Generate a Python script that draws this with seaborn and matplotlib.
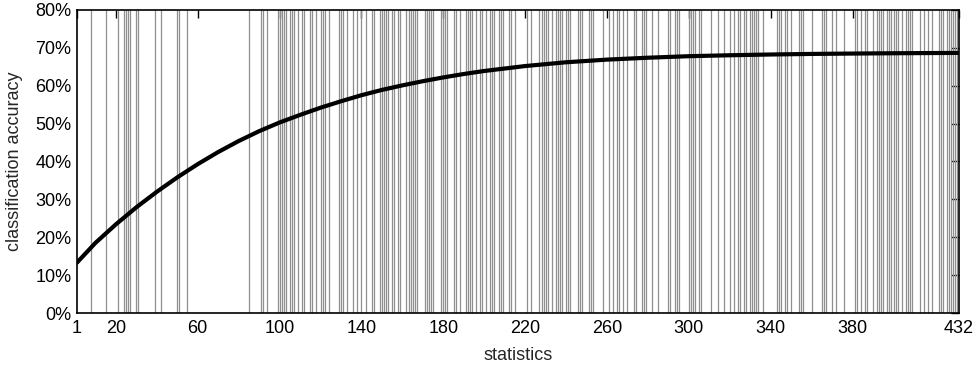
import matplotlib
matplotlib.use("Agg")
import matplotlib.pyplot as plt
import seaborn as sns
import pandas as pd
from matplotlib.ticker import FuncFormatter

# selected statistics (vertical markers)
selected = [8, 15, 21, 24, 25, 26, 27, 30, 31, 39, 42, 50, 51, 55, 85, 91, 92, 94,
            99, 100, 101, 102, 103, 105, 106, 107, 109, 111, 112, 115, 116, 118, 120,
            121, 122, 124, 129, 130, 131, 133, 136, 138, 140, 142, 145, 146, 149, 150,
            151, 152, 153, 155, 156, 158, 159, 162, 163, 164, 165, 166, 167, 171, 172,
            173, 174, 175, 179, 180, 181, 182, 185, 186, 188, 191, 192, 193, 194, 196,
            198, 199, 201, 203, 204, 205, 207, 208, 209, 212, 213, 215, 221, 223, 227,
            228, 229, 230, 231, 233, 235, 236, 237, 238, 240, 241, 242, 246, 247, 248,
            251, 252, 253, 258, 261, 263, 265, 266, 268, 270, 273, 274, 277, 278, 279,
            282, 285, 290, 291, 293, 294, 295, 300, 301, 302, 303, 305, 306, 311, 314,
            317, 320, 322, 324, 325, 327, 328, 330, 331, 332, 333, 334, 336, 343, 344,
            345, 347, 348, 350, 354, 355, 356, 360, 365, 366, 367, 370, 372, 376, 381,
            382, 384, 386, 387, 390, 392, 393, 394, 395, 397, 398, 399, 400, 401, 402,
            404, 406, 407, 408, 409, 413, 415, 417, 419, 422, 423, 424, 426, 427, 428,
            429, 430, 431]

# accuracy curve (percent)
n_stats = [1, 10, 20, 30, 40, 50, 60, 70, 80, 90, 100, 110, 120, 130, 140, 150, 160,
           170, 180, 190, 200, 220, 240, 260, 280, 300, 320, 340, 360, 380, 400, 420, 432]
accuracy = [13.3, 18.5, 23.4, 27.9, 32.0, 35.8, 39.3, 42.5, 45.4, 48.0, 50.3, 52.3,
            54.2, 55.9, 57.5, 58.9, 60.1, 61.2, 62.2, 63.1, 63.9, 65.2, 66.2, 66.9,
            67.4, 67.8, 68.05, 68.25, 68.4, 68.5, 68.58, 68.64, 68.67]

x_ticks = [1, 20, 60, 100, 140, 180, 220, 260, 300, 340, 380, 432]
y_ticks = [0, 10, 20, 30, 40, 50, 60, 70, 80]

sns.set_style("white")
plt.rcParams['font.family'] = ['Liberation Sans', 'DejaVu Sans']

fig = plt.figure(figsize=(9.78, 3.66), dpi=100)
ax = fig.add_axes([0.0787, 0.1448, 0.9019, 0.8279])

ax.vlines(selected, 0, 80, colors='#8f8f8f', linewidth=0.9, zorder=1)

df = pd.DataFrame({"statistics": n_stats, "accuracy": accuracy})
sns.lineplot(data=df, x="statistics", y="accuracy", color='black', linewidth=3,
             ax=ax, zorder=3)

ax.set_xlim(1, 432)
ax.set_ylim(0, 80)
ax.set_xticks(x_ticks)
ax.set_yticks(y_ticks)
ax.yaxis.set_major_formatter(FuncFormatter(lambda v, p: f"{int(v)}%"))
ax.tick_params(direction='in', length=6, width=1, top=True, right=True,
               labelsize=13, colors='black', pad=4)
ax.tick_params(axis='x', pad=5)
ax.set_xlabel("statistics", fontsize=13, labelpad=7)
ax.set_ylabel("classification accuracy", fontsize=13, labelpad=9)
for s in ax.spines.values():
    s.set_color('black')
    s.set_linewidth(1.2)
    s.set_zorder(4)

fig.savefig("out.png", dpi=100)
